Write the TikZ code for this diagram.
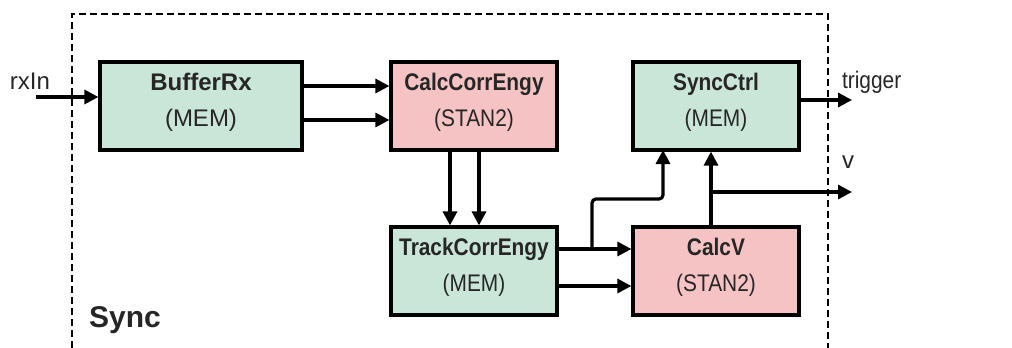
\documentclass[tikz,border=0pt]{standalone}
\usepackage{fontspec}
\setmainfont{Liberation Sans}
\newfontfamily\narrowfont[FakeStretch=0.87]{Liberation Sans}
\usepackage{tikz}
\usetikzlibrary{arrows.meta,positioning}

\definecolor{memfill}{HTML}{C9E6D8}
\definecolor{stanfill}{HTML}{F6C3C4}

\begin{document}
\begin{tikzpicture}[
        x=0.5pt, y=-0.5pt,
        every node/.style={font=\fontsize{12}{18}\selectfont, text=black!85},
        block/.style={draw, line width=1.6pt, align=center, minimum height=44pt, inner sep=0pt},
        mem/.style={block, fill=memfill},
        stan/.style={block, fill=stanfill},
        slim/.style={font=\fontsize{12}{18}\selectfont\narrowfont},
        sig/.style={line width=1.6pt, -{Triangle[length=7pt,width=7pt]}}
    ]
    \useasboundingbox (0,0) rectangle (1012,348);

    % Sync frame
    \draw[dashed, line width=0.8pt, dash pattern=on 3.5pt off 2pt] (72,348) -- (72,14) -- (828,14) -- (828,348);
    \node[anchor=west, font=\fontsize{15}{16}\selectfont\bfseries] (title) at (82,320) {Sync};

    % Blocks
    \node[mem, minimum width=101pt] (bufrx) at (201,106) {\textbf{BufferRx}\\(MEM)\rule[-6pt]{0pt}{0pt}};
    \node[stan, slim, minimum width=83pt] (ccorr) at (474,106) {\textbf{CalcCorrEngy}\\(STAN2)\rule[-6pt]{0pt}{0pt}};
    \node[mem, slim, minimum width=83pt] (sctrl) at (716,106) {\textbf{SyncCtrl}\\(MEM)\rule[-6pt]{0pt}{0pt}};
    \node[mem, slim, minimum width=83pt] (tcorr) at (474,271) {\textbf{TrackCorrEngy}\\(MEM)\rule[-6pt]{0pt}{0pt}};
    \node[stan, slim, minimum width=83pt] (calcv) at (716,271) {\textbf{CalcV}\\(STAN2)\rule[-6pt]{0pt}{0pt}};

    % Ports
    \coordinate (rxsrc) at (36,97);
    \coordinate (trgdst) at (852,100);
    \coordinate (vdst) at (852,192);
    \coordinate (vtap) at (711,192);
    \coordinate (tap) at (592,249);
    \node (rxin) at (30,81) {rxIn};
    \node[anchor=west, slim] (trg) at (835,82) {trigger};
    \node[anchor=west] (vlab) at (835,162) {v};

    % Edges
    \draw[sig] (rxsrc) -- (rxsrc -| bufrx.west);
    \draw[sig] ([yshift=10pt]bufrx.east) -- ([yshift=10pt]ccorr.west);
    \draw[sig] ([yshift=-7pt]bufrx.east) -- ([yshift=-7pt]ccorr.west);
    \draw[sig] ([xshift=-12pt]ccorr.south) -- ([xshift=-12pt]tcorr.north);
    \draw[sig] ([xshift=2.5pt]ccorr.south) -- ([xshift=2.5pt]tcorr.north);
    \draw[sig] ([yshift=11pt]tcorr.east) -- ([yshift=11pt]calcv.west);
    \draw[sig] ([yshift=-7.5pt]tcorr.east) -- ([yshift=-7.5pt]calcv.west);
    \draw[sig, rounded corners=2pt] (tap) -- (592,199) -- (663,199) -- (663,150);
    \draw[sig] ([xshift=-2.5pt]calcv.north) -- ([xshift=-2.5pt]sctrl.south);
    \draw[sig] (vtap) -- (vdst);
    \draw[sig] (trgdst -| sctrl.east) -- (trgdst);

\end{tikzpicture}
\end{document}
